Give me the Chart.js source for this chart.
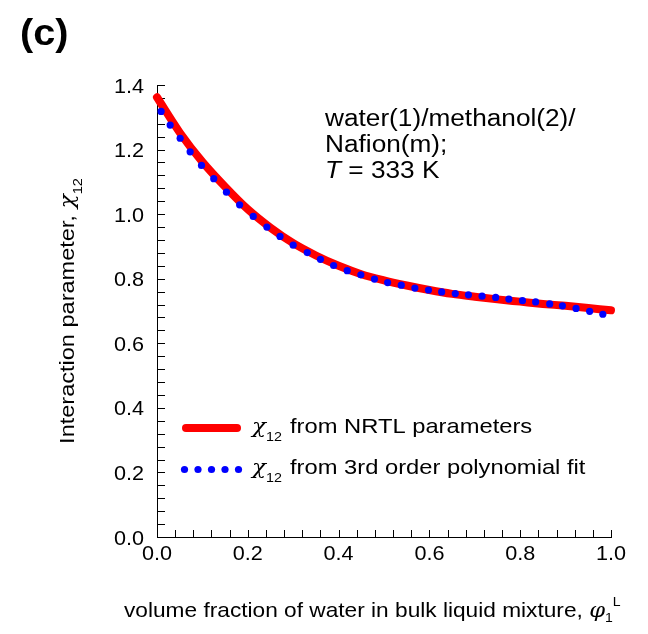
<!DOCTYPE html>
<html>
<head>
<meta charset="utf-8">
<script src="https://cdn.jsdelivr.net/npm/chart.js@4.4.1/dist/chart.umd.min.js"></script>
<style>
  html, body { margin: 0; padding: 0; background: #ffffff; }
  #wrap { width: 648px; height: 634px; }
</style>
</head>
<body>
<div id="wrap"><canvas id="c" width="648" height="634"></canvas></div>
<script>
// χ12 computed from NRTL parameters (solid red curve)
const nrtlX = [0.00, 0.05, 0.10, 0.15, 0.20, 0.25, 0.30, 0.35, 0.40, 0.45, 0.50,
               0.55, 0.60, 0.65, 0.70, 0.75, 0.80, 0.85, 0.90, 0.95, 1.00];
const nrtlY = [1.362, 1.253, 1.162, 1.085, 1.015, 0.958, 0.910, 0.872, 0.840, 0.814, 0.795,
               0.779, 0.765, 0.753, 0.744, 0.736, 0.729, 0.722, 0.716, 0.709, 0.702];

// χ12 from the 3rd order polynomial fit (blue dots)
const polyX = [0.009, 0.029, 0.051, 0.073, 0.098, 0.125, 0.153, 0.182, 0.212, 0.242, 0.271, 0.300,
               0.331, 0.360, 0.389, 0.419, 0.449, 0.479, 0.508, 0.538, 0.568, 0.598, 0.627, 0.657,
               0.686, 0.716, 0.746, 0.775, 0.805, 0.834, 0.865, 0.893, 0.923, 0.953, 0.982];
const polyY = [1.318, 1.276, 1.235, 1.193, 1.151, 1.110, 1.068, 1.029, 0.993, 0.960, 0.931, 0.904,
               0.881, 0.860, 0.841, 0.825, 0.812, 0.799, 0.788, 0.780, 0.771, 0.765, 0.759, 0.754,
               0.750, 0.746, 0.742, 0.737, 0.732, 0.728, 0.722, 0.716, 0.708, 0.699, 0.690];

const xTickLabels = ['0.0', '0.2', '0.4', '0.6', '0.8', '1.0'];
const yTickLabels = ['0.0', '0.2', '0.4', '0.6', '0.8', '1.0', '1.2', '1.4'];
const legendLabels = ['from NRTL parameters', 'from 3rd order polynomial fit'];
const noteLines = ['water(1)/methanol(2)/', 'Nafion(m);'];
const noteTemp = ' = 333 K';
const panelLabel = '(c)';
const xTitle = 'volume fraction of water in bulk liquid mixture, ';
const yTitle = 'Interaction parameter, ';

const SANS = '"Liberation Sans", Arial, Helvetica, sans-serif';
const SERIF = '"DejaVu Serif", "Liberation Serif", serif';
const RED = '#ff0000';
const BLUE = '#0000ff';
const INK = '#000000';

// Width of a row of text runs [text, font, dy] with horizontal scale sx
function runWidth(ctx, list, sx) {
  let w = 0;
  for (const [t, f] of list) { ctx.font = f; w += ctx.measureText(t).width * sx; }
  return w;
}
// Draw a row of text runs starting at x on baseline y
function drawRuns(ctx, list, x, y, sx) {
  let cx = x;
  for (const [t, f, dy] of list) {
    ctx.font = f;
    const w = ctx.measureText(t).width * sx;
    ctx.save();
    ctx.translate(cx, y + (dy || 0));
    ctx.scale(sx, 1);
    ctx.textAlign = 'left';
    ctx.textBaseline = 'alphabetic';
    ctx.fillText(t, 0, 0);
    ctx.restore();
    cx += w;
  }
  return cx - x;
}
function chiRuns() {
  return [['χ', 'italic 21px ' + SERIF, 0], ['12', '13px ' + SANS, 8]];
}

const decorations = {
  id: 'decorations',
  beforeDatasetsDraw(chart) {
    const ctx = chart.ctx;
    const xs = chart.scales.x, ys = chart.scales.y;
    const area = chart.chartArea;
    ctx.save();
    ctx.strokeStyle = INK;
    ctx.lineWidth = 1;
    ctx.beginPath();
    // inward tick marks every 0.04
    for (let i = 0; i <= 25; i++) {
      const px = Math.round(xs.getPixelForValue(i * 0.04)) + 0.5;
      ctx.moveTo(px, area.bottom);
      ctx.lineTo(px, area.bottom - 7);
    }
    for (let i = 0; i <= 35; i++) {
      const py = Math.round(ys.getPixelForValue(i * 0.04)) + 0.5;
      ctx.moveTo(area.left, py);
      ctx.lineTo(area.left + 8, py);
    }
    ctx.stroke();
    ctx.restore();
  },
  afterDraw(chart) {
    const ctx = chart.ctx;
    const xs = chart.scales.x, ys = chart.scales.y;
    const area = chart.chartArea;
    ctx.save();
    ctx.fillStyle = INK;

    // tick labels
    const tickFont = '20px ' + SANS;
    for (const lab of yTickLabels) {
      const py = ys.getPixelForValue(parseFloat(lab));
      const w = runWidth(ctx, [[lab, tickFont]], 1.08);
      drawRuns(ctx, [[lab, tickFont, 0]], area.left - 13 - w, py + 7.5, 1.08);
    }
    for (const lab of xTickLabels) {
      const px = xs.getPixelForValue(parseFloat(lab));
      const w = runWidth(ctx, [[lab, tickFont]], 1.08);
      drawRuns(ctx, [[lab, tickFont, 0]], px - w / 2, area.bottom + 23, 1.08);
    }

    // panel label
    drawRuns(ctx, [[panelLabel, 'bold 37px ' + SANS, 0]], 20, 45, 1.07);

    // x axis title
    const xt = [[xTitle, '21px ' + SANS, 0], ['φ', 'italic 21px ' + SERIF, 0],
                ['1', '13px ' + SANS, 5], ['L', '13px ' + SANS, -11]];
    drawRuns(ctx, xt, 124, 617, 1.08);

    // y axis title (rotated)
    const yt = [[yTitle, '21px ' + SANS, 0]].concat(chiRuns());
    const yw = runWidth(ctx, yt, 1.12);
    ctx.save();
    ctx.translate(74, (area.top + area.bottom) / 2);
    ctx.rotate(-Math.PI / 2);
    drawRuns(ctx, yt, -yw / 2, 0, 1.12);
    ctx.restore();

    // annotation
    const noteFont = '23px ' + SANS;
    drawRuns(ctx, [[noteLines[0], noteFont, 0]], 325, 126, 1.14);
    drawRuns(ctx, [[noteLines[1], noteFont, 0]], 325, 152, 1.14);
    drawRuns(ctx, [['T', 'italic ' + noteFont, 0], [noteTemp, noteFont, 0]], 325, 178, 1.14);

    // legend
    ctx.strokeStyle = RED;
    ctx.lineWidth = 8;
    ctx.lineCap = 'round';
    ctx.beginPath();
    ctx.moveTo(186, 428);
    ctx.lineTo(237, 428);
    ctx.stroke();
    ctx.fillStyle = BLUE;
    for (let i = 0; i < 5; i++) {
      ctx.beginPath();
      ctx.arc(184.5 + i * 13.5, 469.5, 3.6, 0, Math.PI * 2);
      ctx.fill();
    }
    ctx.fillStyle = INK;
    const legFont = '21px ' + SANS;
    const rowY = [433, 474];
    legendLabels.forEach((lab, i) => {
      drawRuns(ctx, chiRuns(), 252, rowY[i], 1.1);
      drawRuns(ctx, [[lab, legFont, 0]], 290, rowY[i], 1.13);
    });
    ctx.restore();
  }
};

new Chart(document.getElementById('c'), {
  type: 'line',
  data: {
    datasets: [
      {
        label: 'poly',
        data: polyX.map((x, i) => ({ x: x, y: polyY[i] })),
        showLine: false,
        pointRadius: 3.6,
        pointBackgroundColor: BLUE,
        pointBorderWidth: 0,
        order: 1,
        clip: false
      },
      {
        label: 'nrtl',
        data: nrtlX.map((x, i) => ({ x: x, y: nrtlY[i] })),
        borderColor: RED,
        borderWidth: 8,
        borderCapStyle: 'round',
        borderJoinStyle: 'round',
        cubicInterpolationMode: 'monotone',
        pointRadius: 0,
        fill: false,
        order: 2,
        clip: false
      }
    ]
  },
  options: {
    responsive: false,
    devicePixelRatio: 1,
    animation: false,
    layout: { padding: { top: 85, right: 37, left: 0, bottom: 0 } },
    plugins: { legend: { display: false }, tooltip: { enabled: false } },
    scales: {
      x: {
        type: 'linear', min: 0, max: 1,
        ticks: { display: false },
        grid: { display: false },
        border: { display: true, color: INK, width: 1 },
        afterFit(s) { s.height = 97; }
      },
      y: {
        type: 'linear', min: 0, max: 1.4,
        ticks: { display: false },
        grid: { display: false },
        border: { display: true, color: INK, width: 1 },
        afterFit(s) { s.width = 157; }
      }
    }
  },
  plugins: [decorations]
});
</script>
</body>
</html>
